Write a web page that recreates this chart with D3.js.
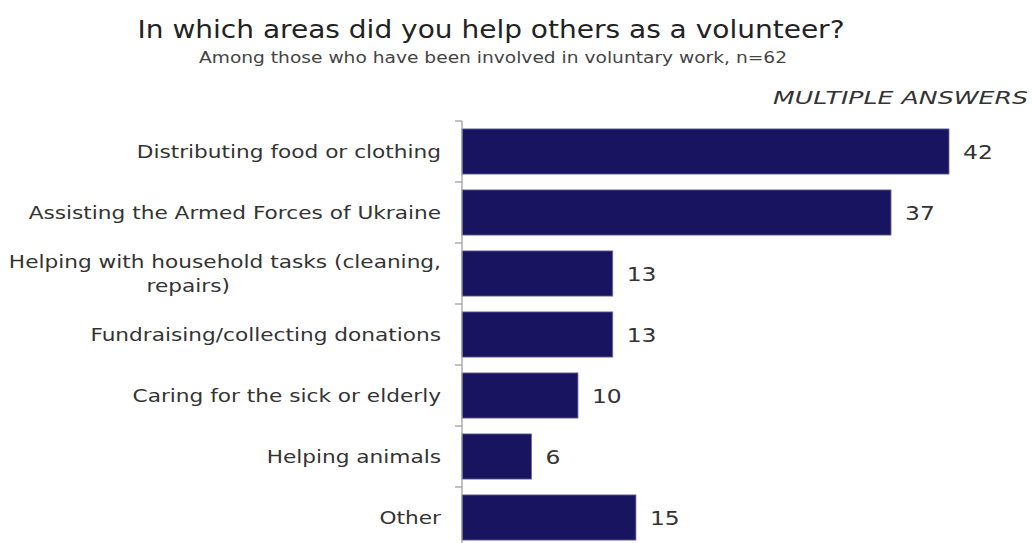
<!DOCTYPE html>
<html><head><meta charset="utf-8">
<script src="https://cdn.jsdelivr.net/npm/d3@7"></script>
<style>body{margin:0;background:#fff}svg{display:block}</style>
</head><body>
<svg id="c" width="1032" height="543"></svg>
<script>
const categories = ["Distributing food or clothing","Assisting the Armed Forces of Ukraine","Helping with household tasks (cleaning, repairs)","Fundraising/collecting donations","Caring for the sick or elderly","Helping animals","Other"];
const values = [42,37,13,13,10,6,15];
const title = "In which areas did you help others as a volunteer?";
const subtitle = "Among those who have been involved in voluntary work, n=62";
const note = "MULTIPLE ANSWERS";

const FONT = "'DejaVu Sans', sans-serif";
const WIDE = 1.17;
const svg = d3.select("#c");
const x0 = 462;
const x = d3.scaleLinear().domain([0, 42]).range([x0, 949]);
const y = d3.scaleBand().domain(categories).range([121, 548]).paddingInner(0.26).paddingOuter(0.13);

function fit(sel, w){ sel.attr("textLength", w).attr("lengthAdjust","spacingAndGlyphs"); return sel; }
function widen(sel){ const w = sel.node().getComputedTextLength(); sel.attr("textLength", w*WIDE).attr("lengthAdjust","spacingAndGlyphs"); return sel; }

fit(svg.append("text").attr("x", 491).attr("y", 38).attr("text-anchor","middle")
  .attr("font-family",FONT).attr("font-size",24).attr("fill","#222").text(title), 707);
fit(svg.append("text").attr("x", 493).attr("y", 63).attr("text-anchor","middle")
  .attr("font-family",FONT).attr("font-size",15).attr("fill","#444").text(subtitle), 588);
fit(svg.append("text").attr("x", 1028).attr("y", 104).attr("text-anchor","end")
  .attr("font-family",FONT).attr("font-style","italic").attr("font-size",18.5).attr("fill","#333").text(note), 255);

svg.selectAll("rect.bar").data(values).join("rect").attr("class","bar")
  .attr("x", x(0)).attr("y",(d,i)=>y(categories[i]))
  .attr("width",d=>x(d)-x(0)).attr("height",y.bandwidth())
  .attr("fill","#18145f").attr("stroke","#6a6aa0").attr("stroke-width",0.8);

svg.selectAll("text.val").data(values).join("text").attr("class","val")
  .attr("x",d=>x(d)+14).attr("y",(d,i)=>y(categories[i])+y.bandwidth()/2)
  .attr("dy","0.36em").attr("font-family",FONT).attr("font-size",20).attr("fill","#333")
  .text(d=>d).each(function(){ widen(d3.select(this)); });

// axis
const ax = svg.append("g").attr("transform",`translate(${x0},0)`);
const step = y.step();
const tickYs = d3.range(categories.length+1).map(i=>121+i*step);
ax.append("line").attr("x1",0).attr("x2",0).attr("y1",121).attr("y2",548).attr("stroke","#999").attr("stroke-width",1.2);
ax.selectAll("line.t").data(tickYs).join("line").attr("class","t")
  .attr("x1",-7).attr("x2",0).attr("y1",d=>d).attr("y2",d=>d).attr("stroke","#999").attr("stroke-width",1.2);

// category labels
const maxW = 440 / WIDE;
const lab = svg.append("g");
categories.forEach((c,i)=>{
  const cy = y(c)+y.bandwidth()/2;
  const t = lab.append("text").attr("font-family",FONT).attr("font-size",18.5).attr("fill","#333").attr("text-anchor","end");
  t.text(c);
  if (t.node().getComputedTextLength() <= maxW) {
    t.attr("x",441).attr("y",cy).attr("dy","0.36em");
    widen(t);
  } else {
    const words = c.split(" ");
    let line1 = [], rest = [];
    t.text("");
    const tmp = t.append("tspan");
    for (let k=0;k<words.length;k++){
      tmp.text(line1.concat(words[k]).join(" "));
      if (tmp.node().getComputedTextLength() > maxW) { rest = words.slice(k); break; }
      line1.push(words[k]);
    }
    tmp.remove();
    t.remove();
    const a = lab.append("text").attr("font-family",FONT).attr("font-size",18.5).attr("fill","#333")
      .attr("text-anchor","end").attr("x",441).attr("y",cy-12).attr("dy","0.36em").text(line1.join(" "));
    widen(a);
    const w1 = a.node().getComputedTextLength() * WIDE;
    const b = lab.append("text").attr("font-family",FONT).attr("font-size",18.5).attr("fill","#333")
      .attr("text-anchor","middle").attr("x",441 - w1/2).attr("y",cy+12).attr("dy","0.36em").text(rest.join(" "));
    widen(b);
  }
});
</script>
</body></html>
